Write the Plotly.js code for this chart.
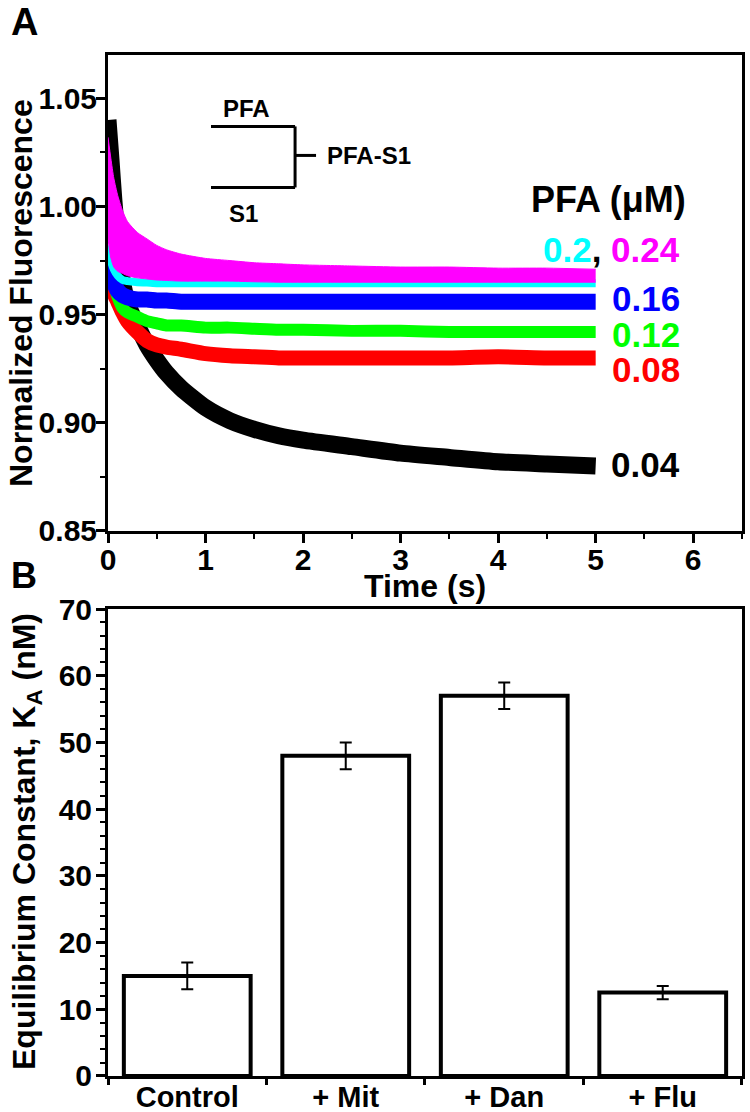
<!DOCTYPE html>
<html>
<head>
<meta charset="utf-8">
<script src="https://cdn.plot.ly/plotly-3.0.1.min.js"></script>
<style>
  html, body { margin: 0; padding: 0; background: #fff; }
  #fig { width: 750px; height: 1112px; }
</style>
</head>
<body>
<div id="fig"></div>
<script>
// Panel A: stopped-flow traces (band centres)
var time_s = [0, 0.03, 0.06, 0.1, 0.15, 0.2, 0.3, 0.4, 0.5, 0.6, 0.75, 1.0, 1.25, 1.5, 1.75, 2.0, 2.5, 3.0, 3.5, 4.0, 4.5, 5.0];
var pfa_004 = [1.040, 1.022, 1.003, 0.983, 0.965, 0.955, 0.945, 0.936, 0.929, 0.923, 0.916, 0.907, 0.901, 0.897, 0.894, 0.892, 0.889, 0.886, 0.884, 0.882, 0.881, 0.880];
var pfa_008 = [0.972, 0.966, 0.960, 0.956, 0.951, 0.947, 0.942, 0.938, 0.936, 0.935, 0.934, 0.932, 0.931, 0.9305, 0.930, 0.930, 0.930, 0.930, 0.930, 0.9305, 0.930, 0.930];
var pfa_012 = [0.976, 0.970, 0.964, 0.958, 0.953, 0.951, 0.949, 0.947, 0.946, 0.945, 0.945, 0.944, 0.944, 0.9435, 0.943, 0.943, 0.9425, 0.9425, 0.942, 0.942, 0.942, 0.942];
var pfa_016 = [0.976, 0.970, 0.965, 0.961, 0.959, 0.958, 0.957, 0.957, 0.9565, 0.9565, 0.956, 0.956, 0.956, 0.956, 0.956, 0.956, 0.956, 0.956, 0.956, 0.956, 0.956, 0.956];
var pfa_020 = [0.982, 0.975, 0.971, 0.968, 0.966, 0.9655, 0.965, 0.9648, 0.9645, 0.9645, 0.9645, 0.9645, 0.9645, 0.9645, 0.9645, 0.9645, 0.9645, 0.9645, 0.9645, 0.9645, 0.9645, 0.9645];
// 0.24 uM trace is a wide noisy band early on: upper and lower edges
var pfa_024_hi = [1.032, 1.022, 1.013, 1.005, 0.998, 0.993, 0.988, 0.985, 0.982, 0.980, 0.978, 0.976, 0.975, 0.974, 0.9735, 0.973, 0.9725, 0.972, 0.972, 0.9715, 0.9715, 0.971];
var pfa_024_lo = [0.985, 0.976, 0.972, 0.970, 0.969, 0.968, 0.967, 0.9665, 0.966, 0.9658, 0.9655, 0.9655, 0.9655, 0.9652, 0.965, 0.965, 0.965, 0.965, 0.965, 0.965, 0.965, 0.965];

// Panel B: equilibrium constants
var groups = ['Control', '+ Mit', '+ Dan', '+ Flu'];
var k_a = [15, 48, 57, 12.5];
var k_a_err = [2, 2, 2, 1];

var black = '#000000'
var font_family = 'Liberation Sans, Arial, sans-serif'

function trace(y, color, width, name) {
  return {
    x: time_s,
    y: y,
    mode: 'lines',
    type: 'scatter',
    line: {color: color, width: width, shape: 'spline', smoothing: 0.6},
    name: name,
    xaxis: 'x',
    yaxis: 'y'
  };
}

var magenta_lo = trace(pfa_024_lo, '#FF00FF', 1, '0.24 low')
var magenta_hi = trace(pfa_024_hi, '#FF00FF', 1, '0.24')
magenta_hi.fill = 'tonexty'
magenta_hi.fillcolor = '#FF00FF'

var data = [
  trace(pfa_004, '#000000', 17, '0.04'),
  trace(pfa_008, '#FF0000', 15, '0.08'),
  trace(pfa_012, '#00FF00', 12, '0.12'),
  trace(pfa_016, '#0000FF', 16, '0.16'),
  trace(pfa_020, '#00FFFF', 8, '0.2'),
  magenta_lo,
  magenta_hi,
  {
    x: groups,
    y: k_a,
    type: 'bar',
    width: 0.8,
    xaxis: 'x2',
    yaxis: 'y2',
    marker: {color: '#ffffff', line: {color: black, width: 4}},
    error_y: {type: 'data', array: k_a_err, visible: true, color: black, thickness: 2, width: 6}
  }
];

var tickfont = {family: font_family, size: 30, color: black, weight: 'bold'};
var titlefont = {family: font_family, size: 32, color: black, weight: 'bold'};
var minor_ticks = {ticks: 'outside', ticklen: 5, tickwidth: 2, tickcolor: black, showgrid: false};

function axis(extra) {
  var a = {
    showline: true, linewidth: 3, linecolor: black, mirror: true,
    showgrid: false, zeroline: false,
    ticks: 'outside', ticklen: 9, tickwidth: 3, tickcolor: black,
    tickfont: tickfont
  };
  for (var k in extra) a[k] = extra[k];
  return a;
}

function label(text, x, y, size, color) {
  return {text: text, xref: 'x', yref: 'y', x: x, y: y, xanchor: 'right', yanchor: 'middle',
    showarrow: false, font: {family: font_family, size: size, color: color, weight: 'bold'}};
}

function paper_text(text, px, py, size, angle) {
  return {text: text, xref: 'paper', yref: 'paper', x: px / 750, y: 1 - py / 1112,
    xanchor: 'center', yanchor: 'middle', textangle: angle || 0, showarrow: false,
    font: {family: font_family, size: size, color: black, weight: 'bold'}};
}

var layout = {
  width: 750,
  height: 1112,
  margin: {l: 0, r: 0, t: 0, b: 0},
  paper_bgcolor: '#ffffff',
  plot_bgcolor: '#ffffff',
  showlegend: false,
  font: {family: font_family, color: black, weight: 'bold'},
  xaxis: axis({
    domain: [0.144, 0.9893], anchor: 'y', range: [0, 6.5], tick0: 0, dtick: 1,
    ticklabelstandoff: -9,
    minor: Object.assign({dtick: 0.5}, minor_ticks)
  }),
  yaxis: axis({
    domain: [0.5225, 0.9505], anchor: 'x', range: [0.85, 1.07], tick0: 0.85, dtick: 0.05, tickformat: '.2f',
    ticklabelstandoff: -7,
    minor: Object.assign({dtick: 0.025}, minor_ticks)
  }),
  xaxis2: axis({
    domain: [0.144, 0.9893], anchor: 'y2', type: 'category', range: [-0.5, 3.5],
    tickson: 'boundaries', ticklen: 6, ticklabelstandoff: -7,
    tickfont: {family: font_family, size: 29, color: black, weight: 'bold'}
  }),
  yaxis2: axis({
    domain: [0.0324, 0.4523], anchor: 'x2', range: [0, 70], tick0: 0, dtick: 10,
    ticklabelstandoff: -2,
    minor: Object.assign({dtick: 2}, minor_ticks)
  }),
  shapes: [
    {type: 'line', xref: 'x', yref: 'y', x0: 1.056, x1: 1.918, y0: 1.037, y1: 1.037, line: {color: black, width: 3}},
    {type: 'line', xref: 'x', yref: 'y', x0: 1.056, x1: 1.918, y0: 1.0088, y1: 1.0088, line: {color: black, width: 3}},
    {type: 'line', xref: 'x', yref: 'y', x0: 1.918, x1: 1.918, y0: 1.0088, y1: 1.037, line: {color: black, width: 3}},
    {type: 'line', xref: 'x', yref: 'y', x0: 1.918, x1: 2.133, y0: 1.0236, y1: 1.0236, line: {color: black, width: 3}}
  ],
  annotations: [
    paper_text('A', 24, 22, 38),
    paper_text('B', 24, 575, 36),
    paper_text('Time (s)', 425, 586, 32),
    paper_text('Normalized Fluorescence', 21, 293, 32, -90),
    paper_text('Equilibrium Constant, K<sub>A</sub> (nM)', 26, 842, 32, -90),
    {text: 'PFA', xref: 'x', yref: 'y', x: 1.415, y: 1.0454, showarrow: false, font: {size: 24, weight: 'bold'}},
    {text: 'S1', xref: 'x', yref: 'y', x: 1.385, y: 0.9968, showarrow: false, font: {size: 24, weight: 'bold'}},
    {text: 'PFA-S1', xref: 'x', yref: 'y', x: 2.226, y: 1.0236, xanchor: 'left', showarrow: false, font: {size: 24, weight: 'bold'}},
    label('PFA (\u03bcM)', 5.95, 1.0032, 36, black),
    label('<span style="color:#00FFFF">0.2</span>, <span style="color:#FF00FF">0.24</span>', 5.887, 0.980, 35, black),
    label('0.16', 5.887, 0.9574, 35, '#0000FF'),
    label('0.12', 5.887, 0.9407, 35, '#00FF00'),
    label('0.08', 5.887, 0.9245, 35, '#FF0000'),
    label('0.04', 5.887, 0.8806, 35, black)
  ]
};

Plotly.newPlot('fig', data, layout, {staticPlot: true});
</script>
</body>
</html>
